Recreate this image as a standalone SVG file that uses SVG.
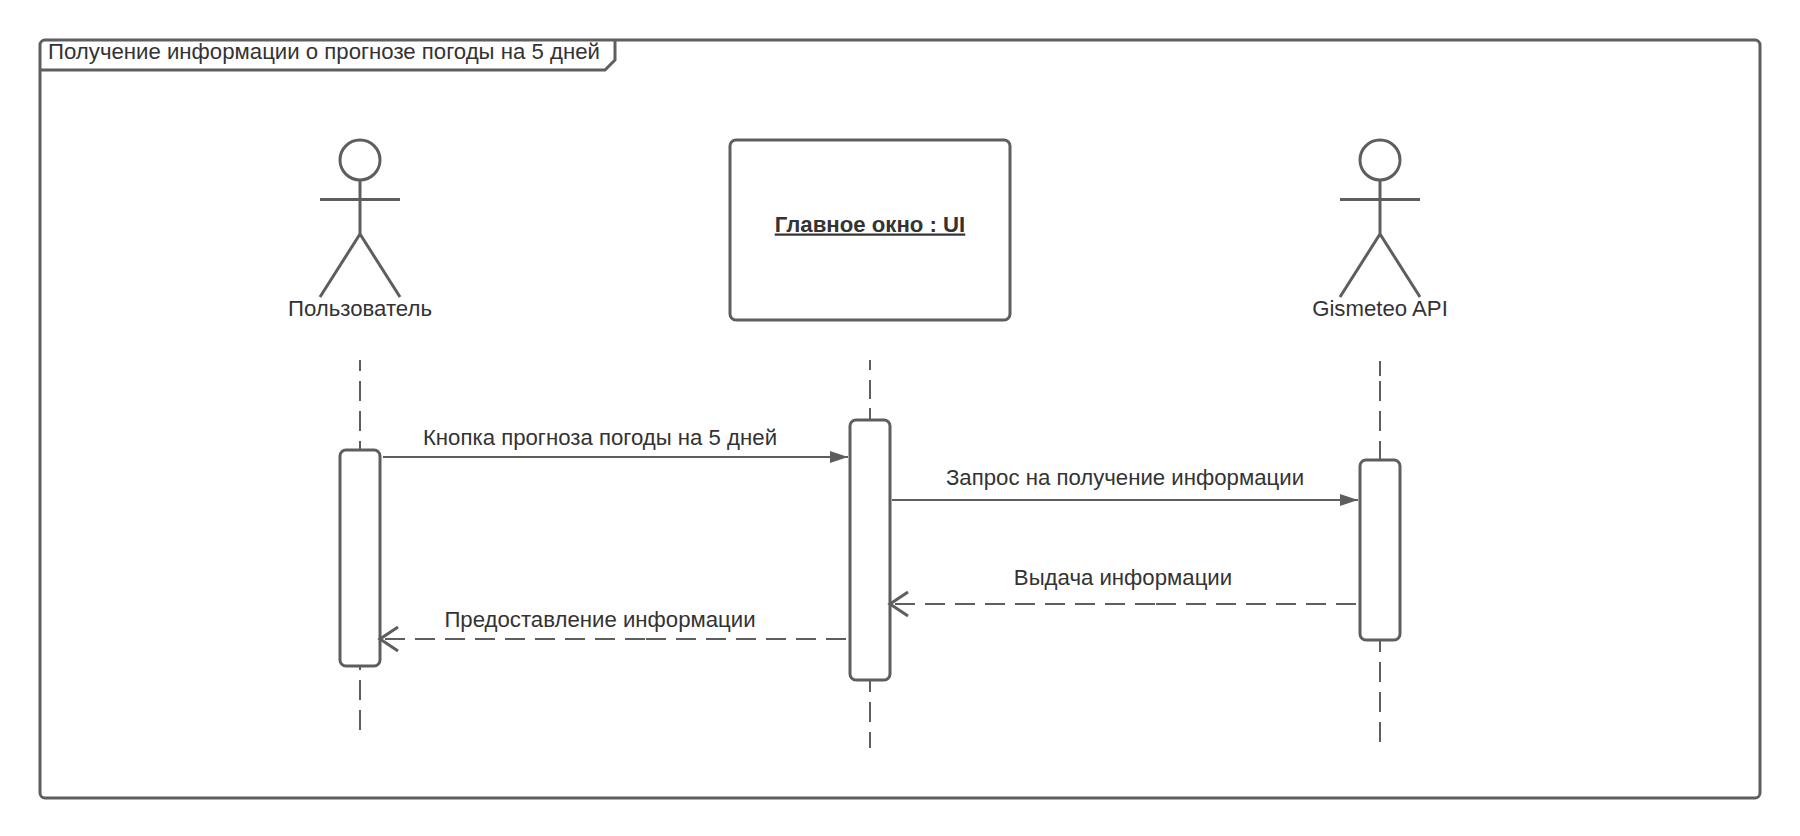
<svg xmlns="http://www.w3.org/2000/svg" width="1800" height="836" viewBox="0 0 1800 836">
<style>
.s{fill:none;stroke:#5e5e5e;stroke-width:3}
.w{fill:#fff;stroke:#5e5e5e;stroke-width:3}
.c{fill:none;stroke:#5e5e5e;stroke-width:2}
.d{stroke-dasharray:20 10}
.t{font-family:"Liberation Sans",Arial,sans-serif;font-size:22.2px;fill:#333;text-anchor:middle}
.b{font-weight:bold;text-decoration:underline}
</style>
<defs>
<marker id="fill" markerUnits="userSpaceOnUse" markerWidth="20" markerHeight="14" refX="18" refY="7" orient="auto"><path d="M0 1L18 7L0 13Z" fill="#5e5e5e"/></marker>
</defs>
<rect width="1800" height="836" fill="#fff"/>
<g id="frame">
<rect class="s" x="40" y="40" width="1720" height="758" rx="5"/>
<path class="s" d="M40 70H605L615 60V40"/>
<text class="t" x="324" y="59">Получение информации о прогнозе погоды на 5 дней</text>
</g>
<g id="lifelines">
<path class="c" d="M360 360V371M360 381V401M360 411V431M360 441V450M360 667V670M360 680V700M360 710V730"/>
<path class="c" d="M870 360V370M870 380V399M870 408V420M870 680V692M870 702V722M870 732V748"/>
<path class="c" d="M1380 361V376M1380 381V401M1380 411V431M1380 441V460M1380 640V652M1380 662V682M1380 692V712M1380 722V742"/>
</g>
<g id="actor-user">
<ellipse class="s" cx="360" cy="160" rx="20" ry="20"/>
<path class="s" d="M360 180V234M320 199.500H400M320 297L360 234L400 297"/>
<text class="t" x="360" y="316">Пользователь</text>
</g>
<g id="main-window">
<rect class="w" x="730" y="140" width="280" height="180" rx="6"/>
<text class="t b" x="870" y="231.500">Главное окно : UI</text>
</g>
<g id="actor-gismeteo">
<ellipse class="s" cx="1380" cy="160" rx="20" ry="20"/>
<path class="s" d="M1380 180V234M1340 199.500H1420M1340 297L1380 234L1420 297"/>
<text class="t" x="1380" y="316">Gismeteo API</text>
</g>
<g id="activation-user"><rect class="w" x="340" y="450" width="40" height="216" rx="6"/></g>
<g id="activation-window"><rect class="w" x="850" y="420" width="40" height="260" rx="6"/></g>
<g id="activation-gismeteo"><rect class="w" x="1360" y="460" width="40" height="180" rx="6"/></g>
<g id="connectors">
<path class="c" d="M383 457H848" marker-end="url(#fill)"/>
<path class="c" d="M892 500H1358" marker-end="url(#fill)"/>
<path class="c d" d="M895 604H1155"/>
<path class="c d" d="M1356 604H1156"/>
<path d="M908 592L890 604L908 616" class="s"/>
<path class="c d" d="M385 639H645"/>
<path class="c d" d="M846 639H646"/>
<path d="M398 627L380 639L398 651" class="s"/>
</g>
<g id="labels">
<text class="t" x="600" y="445">Кнопка прогноза погоды на 5 дней</text>
<text class="t" x="1125" y="485">Запрос на получение информации</text>
<text class="t" x="1123" y="585">Выдача информации</text>
<text class="t" x="600" y="626.700">Предоставление информации</text>
</g>
</svg>
